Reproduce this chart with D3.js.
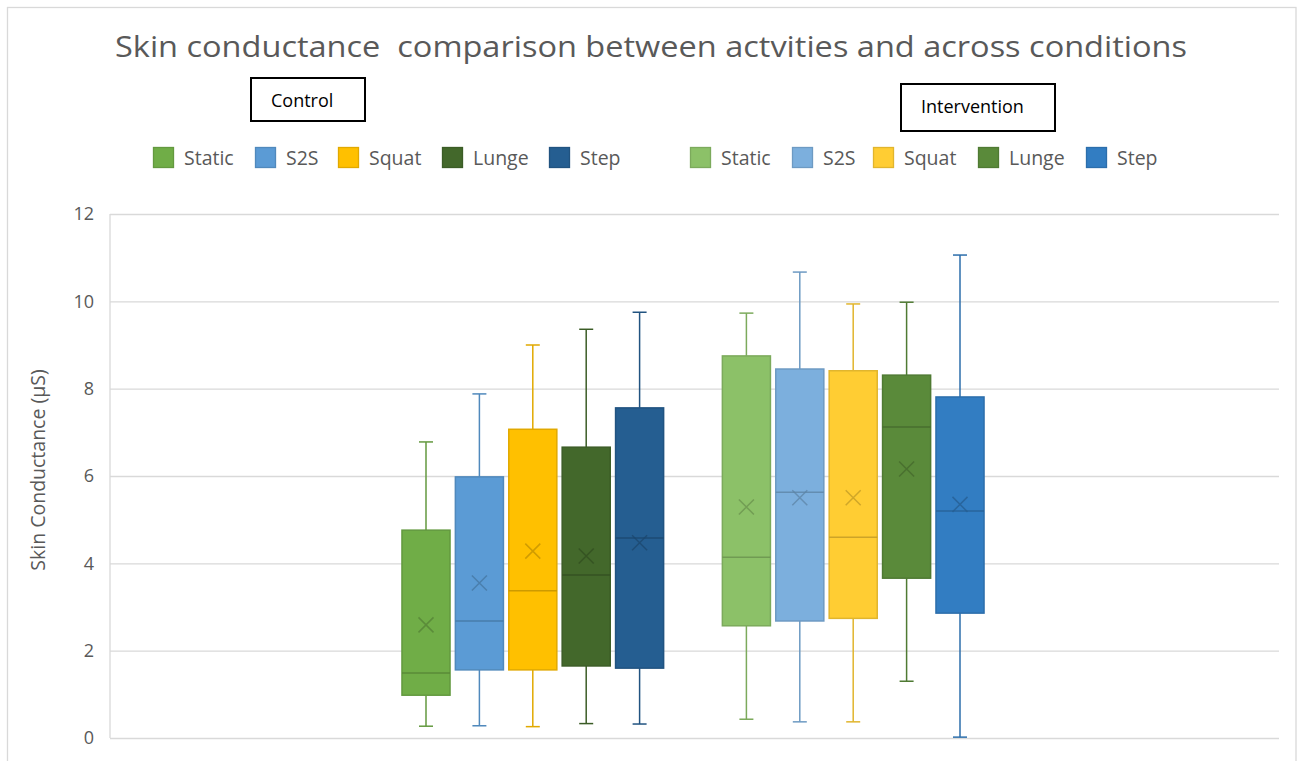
<!DOCTYPE html>
<html>
<head>
<meta charset="utf-8">
<script src="https://cdn.jsdelivr.net/npm/d3@7"></script>
<style>
  html, body { margin: 0; padding: 0; background: #fff; }
  svg { display: block; font-family: "Open Sans", "Noto Sans", sans-serif; }
</style>
</head>
<body>
<svg id="chart" width="1303" height="761"></svg>
<script>
// ---------------- DATA ----------------
const title = "Skin conductance  comparison between actvities and across conditions";
const yAxisTitle = "Skin Conductance (\u00B5S)";
const activities = ["Static", "S2S", "Squat", "Lunge", "Step"];
const conditions = ["Control", "Intervention"];
const yTicks = [0, 2, 4, 6, 8, 10, 12];

const controlMin    = [0.27, 0.28, 0.26, 0.33, 0.32];
const controlQ1     = [0.98, 1.56, 1.56, 1.65, 1.60];
const controlMedian = [1.49, 2.68, 3.37, 3.73, 4.58];
const controlQ3     = [4.76, 5.98, 7.07, 6.66, 7.56];
const controlMax    = [6.78, 7.88, 9.00, 9.36, 9.75];
const controlMean   = [2.59, 3.55, 4.28, 4.17, 4.47];

const interventionMin    = [0.43, 0.37, 0.37, 1.30, 0.02];
const interventionQ1     = [2.57, 2.68, 2.74, 3.66, 2.86];
const interventionMedian = [4.14, 5.63, 4.60, 7.12, 5.20];
const interventionQ3     = [8.75, 8.45, 8.41, 8.31, 7.81];
const interventionMax    = [9.73, 10.67, 9.94, 9.98, 11.06];
const interventionMean   = [5.29, 5.50, 5.50, 6.16, 5.35];

const controlColors      = ["#70AD47", "#5B9BD5", "#FFC000", "#43682B", "#255E91"];
const interventionColors = ["#8CC168", "#7CAFDD", "#FFCD33", "#5A8A3A", "#327DC2"];

// ---------------- BUILD SERIES ----------------
function build(cond, mn, q1, med, q3, mx, mean, colors) {
  return activities.map((a, i) => ({
    key: cond + "-" + a, cond, activity: a,
    min: mn[i], q1: q1[i], median: med[i], q3: q3[i], max: mx[i], mean: mean[i],
    color: colors[i]
  }));
}
const controlSeries = build("Control", controlMin, controlQ1, controlMedian, controlQ3, controlMax, controlMean, controlColors);
const interventionSeries = build("Intervention", interventionMin, interventionQ1, interventionMedian, interventionQ3, interventionMax, interventionMean, interventionColors);
const allSeries = controlSeries.concat(interventionSeries);

// ---------------- LAYOUT ----------------
const svg = d3.select("#chart");
const plot = { left: 110, right: 1279, top: 214, bottom: 738 };
const textColor = "#595959";
const gridColor = "#D9D9D9";

// chart frame
svg.append("rect")
  .attr("x", 7.5).attr("y", 7.5)
  .attr("width", 1296 - 7.5).attr("height", 800)
  .attr("fill", "#fff").attr("stroke", gridColor).attr("stroke-width", 1.3);

const y = d3.scaleLinear().domain([0, 12]).range([plot.bottom, plot.top]);

// slots: 5 control, one empty gap, 5 intervention
const slots = controlSeries.map(d => d.key).concat(["gap"], interventionSeries.map(d => d.key));
const step = 53.4;
const cx = (plot.left + plot.right) / 2 - 1.5;
const x = d3.scaleBand()
  .domain(slots)
  .range([cx - step * slots.length / 2, cx + step * slots.length / 2])
  .paddingInner(0.1).paddingOuter(0.05);

// gridlines
const yAxis = d3.axisLeft(y).tickValues(yTicks).tickSize(-(plot.right - plot.left)).tickPadding(16);
const gAxis = svg.append("g").attr("transform", `translate(${plot.left},0)`).call(yAxis);
gAxis.select(".domain").remove();
gAxis.selectAll(".tick line").attr("stroke", gridColor).attr("stroke-width", 1.3);
gAxis.selectAll(".tick text")
  .attr("fill", textColor).attr("font-size", 18)
  .attr("font-family", "'Open Sans', sans-serif");
// left vertical axis line
svg.append("line")
  .attr("x1", plot.left).attr("x2", plot.left)
  .attr("y1", plot.top).attr("y2", plot.bottom)
  .attr("stroke", gridColor).attr("stroke-width", 1.3);

// y-axis title
svg.append("text")
  .attr("transform", `translate(45,470) rotate(-90)`)
  .attr("text-anchor", "middle")
  .attr("fill", textColor).attr("font-size", 19.5)
  .text(yAxisTitle);

// title
svg.append("text")
  .attr("x", 651).attr("y", 57)
  .attr("text-anchor", "middle")
  .attr("xml:space", "preserve")
  .style("white-space", "pre")
  .attr("fill", textColor).attr("font-size", 29)
  .attr("textLength", 1072).attr("lengthAdjust", "spacingAndGlyphs")
  .text(title);

// ---------------- BOXES ----------------
const capW = 14;
const gBoxes = svg.append("g");
allSeries.forEach(d => {
  const g = gBoxes.append("g");
  const x0 = x(d.key), bw = x.bandwidth(), xm = x0 + bw / 2;
  const stroke = d3.color(d.color).darker(0.35).formatHex();
  const dark = d3.color(d.color).darker(0.8).formatHex();
  // whiskers
  g.append("line").attr("x1", xm).attr("x2", xm).attr("y1", y(d.q3)).attr("y2", y(d.max))
    .attr("stroke", stroke).attr("stroke-width", 1.5);
  g.append("line").attr("x1", xm).attr("x2", xm).attr("y1", y(d.q1)).attr("y2", y(d.min))
    .attr("stroke", stroke).attr("stroke-width", 1.5);
  g.append("line").attr("x1", xm - capW / 2).attr("x2", xm + capW / 2).attr("y1", y(d.max)).attr("y2", y(d.max))
    .attr("stroke", stroke).attr("stroke-width", 1.5);
  g.append("line").attr("x1", xm - capW / 2).attr("x2", xm + capW / 2).attr("y1", y(d.min)).attr("y2", y(d.min))
    .attr("stroke", stroke).attr("stroke-width", 1.5);
  // box
  g.append("rect").attr("x", x0).attr("width", bw)
    .attr("y", y(d.q3)).attr("height", y(d.q1) - y(d.q3))
    .attr("fill", d.color).attr("stroke", stroke).attr("stroke-width", 1.5);
  // median
  g.append("line").attr("x1", x0).attr("x2", x0 + bw).attr("y1", y(d.median)).attr("y2", y(d.median))
    .attr("stroke", dark).attr("stroke-width", 1.5).attr("stroke-opacity", 0.8);
  // mean X
  const s = 7.5, ym = y(d.mean);
  g.append("path")
    .attr("d", `M${xm - s},${ym - s}L${xm + s},${ym + s}M${xm - s},${ym + s}L${xm + s},${ym - s}`)
    .attr("stroke", dark).attr("stroke-width", 1.5).attr("stroke-opacity", 0.75).attr("fill", "none");
});

// ---------------- LEGENDS ----------------
const legendControlX = [153, 255, 338, 442, 549];
const legendInterventionX = [690, 792, 873, 978, 1086];
function legend(series, xs) {
  series.forEach((d, i) => {
    const stroke = d3.color(d.color).darker(0.35).formatHex();
    svg.append("rect").attr("x", xs[i] + 0.5).attr("y", 147.5).attr("width", 20).attr("height", 20)
      .attr("fill", d.color).attr("stroke", stroke).attr("stroke-width", 1.3);
    svg.append("text").attr("x", xs[i] + 31).attr("y", 165)
      .attr("fill", textColor).attr("font-size", 19.5).text(d.activity);
  });
}
legend(controlSeries, legendControlX);
legend(interventionSeries, legendInterventionX);

// condition labels in boxes
const condBoxes = [
  { label: conditions[0], x: 251, y: 78, w: 114, h: 43 },
  { label: conditions[1], x: 901, y: 84, w: 154, h: 47 }
];
condBoxes.forEach(b => {
  svg.append("rect").attr("x", b.x).attr("y", b.y).attr("width", b.w).attr("height", b.h)
    .attr("fill", "#fff").attr("stroke", "#000").attr("stroke-width", 2);
  svg.append("text").attr("x", b.x + 20).attr("y", b.y + 29)
    .attr("fill", "#000").attr("font-size", 18).text(b.label);
});
</script>
</body>
</html>
